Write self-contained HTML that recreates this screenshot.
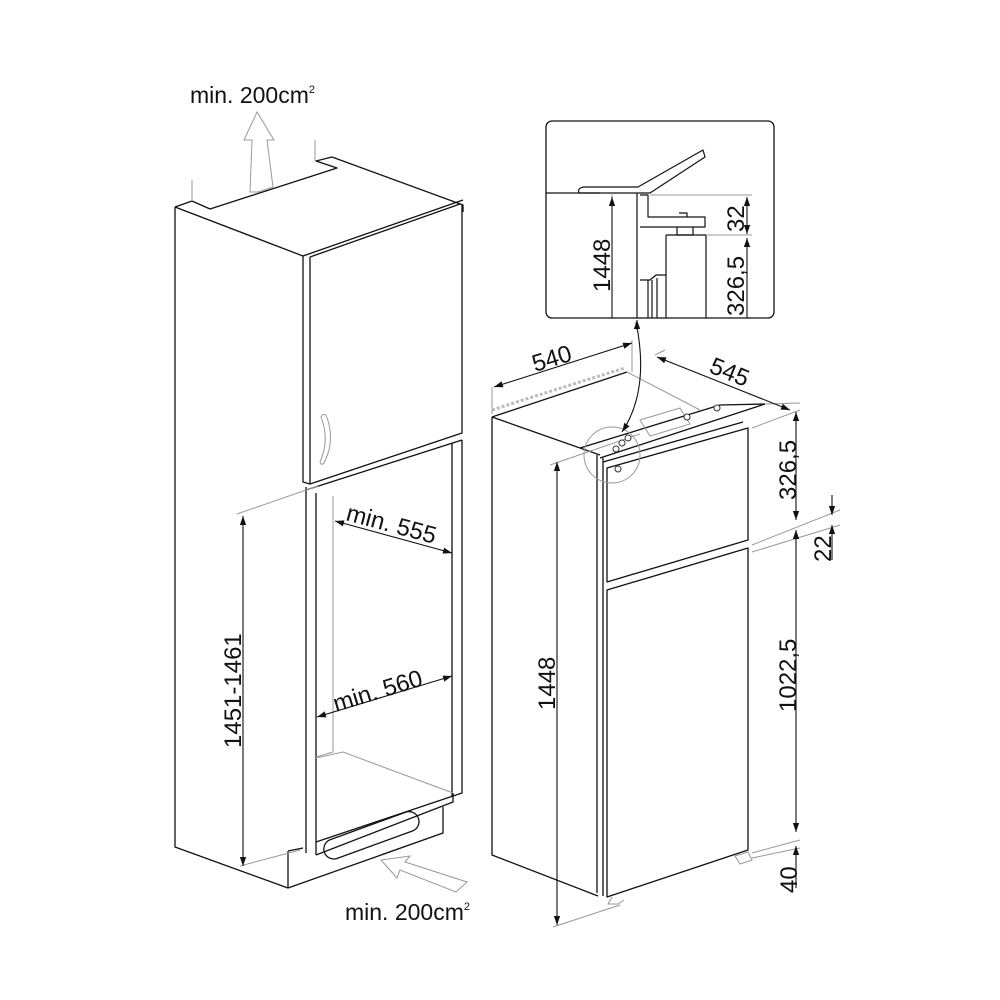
<!DOCTYPE html>
<html><head><meta charset="utf-8"><style>
html,body{margin:0;padding:0;background:#fff}
svg{display:block}
text{font-family:"Liberation Sans",sans-serif;fill:#111}
</style></head><body>
<svg width="1000" height="1000" viewBox="0 0 1000 1000" xmlns="http://www.w3.org/2000/svg">
<defs>
<marker id="a" viewBox="0 0 10 10" refX="10" refY="5" markerWidth="9" markerHeight="9" orient="auto-start-reverse" markerUnits="userSpaceOnUse"><path d="M0,1.5 L10,5 L0,8.5 Z" fill="#111"/></marker>
</defs>
<g fill="none" stroke="#111" stroke-width="1.3" stroke-linejoin="round">
<path d="M175,207 L192,201 L210,209 L337,168 L316,161 L332,157 L463,205 L463,212"/>
<path d="M175,207 L303,256"/>
<path d="M175,207 L175,847 L288,888 L443,833 L443,807"/>
<path d="M303,256 L463,200"/>
<path d="M310,257 L460,204"/>
<path d="M303,256 L303,482 L310,484"/>
<path d="M310,257 L310,484 L462,433 L462,204"/>
<path d="M306,490 L462,440"/>
<path d="M306,487 L306,853"/>
<path d="M316,493 L316,855"/>
<path d="M452,443 L452,796"/>
<path d="M462,440 L462,793 L316,842"/>
<path d="M316,855 L453,802 L453,793"/>
<path d="M288,851 L288,888"/>
<path d="M288,851 L303,848"/>
<rect x="0" y="0" width="100" height="20" rx="10" transform="translate(321,843) rotate(-20)"/>
</g>
<g fill="none" stroke="#999" stroke-width="1">
<path d="M192,180 L192,201"/>
<path d="M315,140 L315,161"/>
<path d="M333,496 L333,752 L316,757"/>
<path d="M316,758 L343,752 L453,793"/>
<path d="M326,415 q10,25 -2,48 q-3,3 -4,-1 q10,-22 1,-45 q2,-4 5,-2z"/>
<path d="M257,112 L274,140 L267,140 L273,187 L258,192 L250,192 L252,140 L244,140 Z"/>
<path d="M381,860 L410,856 L405,862 L467,882 L456,892 L400,870 L397,878 Z"/>
<path d="M237,514 L318,486"/>
<path d="M240,866 L300,850"/>
</g>
<g fill="none" stroke="#111" stroke-width="1.1">
<path d="M243,866 L243,516" marker-end="url(#a)" marker-start="url(#a)"/>
<path d="M335,521 L452,553" marker-end="url(#a)" marker-start="url(#a)"/>
<path d="M317,717 L452,676" marker-end="url(#a)" marker-start="url(#a)"/>
</g>
<text x="190" y="103" font-size="23">min. 200cm<tspan font-size="11" dy="-10">2</tspan></text>
<text x="345" y="920" font-size="23">min. 200cm<tspan font-size="11" dy="-10">2</tspan></text>
<text transform="translate(241,748) rotate(-90)" font-size="24">1451-1461</text>
<text transform="translate(345,520) rotate(15)" font-size="24">min. 555</text>
<text transform="translate(336,712) rotate(-17)" font-size="24">min. 560</text>

<g fill="none" stroke="#111" stroke-width="1.3" stroke-linejoin="round">
<path d="M492,417 L627,372"/>
<path d="M492,417 L580,448 L600,455"/>
<path d="M492,417 L492,855 L598,896"/>
<path d="M597,455 L597,893"/>
<path d="M603,458 L603,896"/>
<path d="M580,448 L720,405 L765,404 L600,458"/>
<path d="M607,468 L748,428 L748,540 L607,582 Z"/>
<path d="M607,590 L748,548 L748,850 L607,897 Z"/>
<path d="M603,462 L743,422"/>
</g>
<g fill="none" stroke="#999" stroke-width="1">
<path d="M627,372 L700,410"/>
<path d="M640,420 L680,408 L690,424 L650,436 Z"/>
<circle cx="612" cy="455" r="28"/>
<path d="M492,387 L492,414"/>
<path d="M632,340 L632,372"/>
<path d="M655,355 L665,350"/>
<path d="M765,404 L800,403"/>
<path d="M550,465 L640,434"/>
<path d="M553,927 L620,905"/>
<path d="M752,428 L800,410"/>
<path d="M752,545 L840,510"/>
<path d="M752,552 L840,525"/>
<path d="M752,853 L800,840"/>
<path d="M752,858 L800,848"/>
<path d="M612,897 L608,904 L618,904 L624,900"/>
<path d="M735,856 L748,852 L752,860 L740,864 Z"/>
<path d="M492,410 Q560,388 625,368" stroke-dasharray="3 2" stroke-width="3" stroke="#bbb"/>
</g>
<g fill="#fff" stroke="#333" stroke-width="1">
<circle cx="622" cy="443" r="3"/><circle cx="628" cy="438" r="3"/><circle cx="616" cy="449" r="3"/>
<circle cx="687" cy="417" r="3"/><circle cx="717" cy="408" r="3"/><circle cx="618" cy="469" r="3"/>
</g>
<g fill="none" stroke="#111" stroke-width="1.1">
<path d="M494,387 L632,343" marker-end="url(#a)" marker-start="url(#a)"/>
<path d="M657,357 L790,410" marker-end="url(#a)" marker-start="url(#a)"/>
<path d="M557,925 L557,462" marker-end="url(#a)" marker-start="url(#a)"/>
<path d="M796,412 L796,520" marker-end="url(#a)" marker-start="url(#a)"/>
<path d="M796,530 L796,832" marker-end="url(#a)" marker-start="url(#a)"/>
<path d="M796,888 L796,846" marker-end="url(#a)"/>
<path d="M832,495 L832,515" marker-end="url(#a)"/>
<path d="M832,560 L832,525" marker-end="url(#a)"/>
<path d="M636,322 Q650,390 622,432" marker-end="url(#a)"/>
</g>
<text transform="translate(535,372) rotate(-17)" font-size="24">540</text>
<text transform="translate(708,372) rotate(22)" font-size="24">545</text>
<text transform="translate(555,710) rotate(-90)" font-size="24">1448</text>
<text transform="translate(796,500) rotate(-90)" font-size="24">326,5</text>
<text transform="translate(831,562) rotate(-90)" font-size="24">22</text>
<text transform="translate(796,712) rotate(-90)" font-size="24">1022,5</text>
<text transform="translate(797,893) rotate(-90)" font-size="24">40</text>

<rect x="546" y="121" width="228" height="197" rx="6" fill="none" stroke="#111" stroke-width="1.3"/>
<g fill="none" stroke="#111" stroke-width="1.2" stroke-linejoin="round">
<path d="M546,193 L600,193"/>
<path d="M579,193 Q577,188 584,187 L638,187 L703,150 L705,157 L650,193 L579,193"/>
<path d="M637,193 L637,318"/>
<path d="M640,195 L648,195 L648,217 L705,217 L705,227 L640,227"/>
<path d="M679,213 L687,213 L687,217 M677,227 L677,235 L693,235 L693,227"/>
<path d="M666,235 L706,235 L706,318"/>
<path d="M666,235 L666,318"/>
<path d="M640,280 L650,280 L656,275 L666,275"/>
<path d="M648,280 L648,318 M652,280 L652,318 M657,278 L657,318"/>
</g>
<g fill="none" stroke="#999" stroke-width="1">
<path d="M650,195 L752,195"/>
<path d="M706,235 L752,235"/>
<path d="M612,193 L612,318"/>
</g>
<g fill="none" stroke="#111" stroke-width="1.1">
<path d="M612,318 L612,197" marker-end="url(#a)"/>
<path d="M747,197 L747,234" marker-end="url(#a)" marker-start="url(#a)"/>
<path d="M747,318 L747,238" marker-end="url(#a)"/>
<path d="M637,330 L637,320" marker-end="url(#a)"/>
</g>
<text transform="translate(610,292) rotate(-90)" font-size="24">1448</text>
<text transform="translate(744,232) rotate(-90)" font-size="24">32</text>
<text transform="translate(744,316) rotate(-90)" font-size="24">326,5</text>
</svg>
</body></html>
